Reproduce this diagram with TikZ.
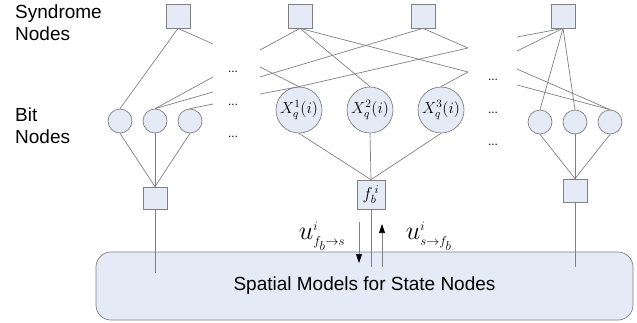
\documentclass[tikz,border=0pt]{standalone}
\usepackage{fix-cm}
\usepackage{fontspec}
\setmainfont{Liberation Sans}
\usetikzlibrary{arrows.meta}
\definecolor{nodefill}{RGB}{228,234,246}
\definecolor{linegray}{RGB}{128,128,128}

\begin{document}
\begin{tikzpicture}[
    x=1pt, y=-1pt,
    synbox/.style={draw=linegray, fill=nodefill, line width=0.7pt, minimum size=24pt, inner sep=0pt},
    bitnode/.style={circle, draw=linegray, fill=nodefill, line width=0.7pt, minimum size=24pt, inner sep=0pt},
    varnode/.style={circle, draw=linegray, fill=nodefill, line width=0.7pt, minimum size=46pt, inner sep=0pt, font=\fontsize{16}{18}\selectfont},
    statebox/.style={draw=linegray, fill=nodefill, line width=0.7pt, rounded corners=15pt, minimum width=537pt, minimum height=68pt, inner sep=0pt, font=\fontsize{19}{22}\selectfont},
    sidelabel/.style={anchor=north west, align=left, inner sep=0pt, font=\fontsize{19}{22}\selectfont},
    gapdots/.style={inner sep=0pt, font=\fontsize{12}{14}\selectfont},
    msglabel/.style={inner sep=0pt, font=\fontsize{26}{30}\selectfont},
    link/.style={draw=linegray, line width=0.7pt},
    msgarrow/.style={draw=linegray, line width=0.7pt, -{Triangle[length=9pt, width=6pt, color=black]}}
  ]
    \useasboundingbox (0,0) rectangle (637,322);

    \node[sidelabel] (synlabel) at (15,5) {Syndrome\\Nodes};
    \node[sidelabel] (bitlabel) at (15,108) {Bit\\Nodes};

    \node[synbox] (syn1) at (178,16) {};
    \node[synbox] (syn2) at (300,16) {};
    \node[synbox] (syn3) at (423,16) {};
    \node[synbox] (syn4) at (563,16) {};

    \node[bitnode] (lb1) at (120,121) {};
    \node[bitnode] (lb2) at (155,121) {};
    \node[bitnode] (lb3) at (190,121) {};
    \node[varnode] (x1) at (299,110) {$X_q^1(i)$};
    \node[varnode] (x2) at (370,110) {$X_q^2(i)$};
    \node[varnode] (x3) at (441,110) {$X_q^3(i)$};
    \node[bitnode] (rb1) at (540,122) {};
    \node[bitnode] (rb2) at (575,122) {};
    \node[bitnode] (rb3) at (610,122) {};

    \node[synbox, minimum height=22pt] (fleft) at (155,198) {};
    \node[synbox, minimum width=28pt, minimum height=29pt, font=\fontsize{17}{19}\selectfont] (fmid) at (371,194.5) {$f_b^{\,i}$};
    \node[synbox, minimum height=23pt] (fright) at (575,190.5) {};

    \node[statebox] (state) at (364.5,286) {Spatial Models for State Nodes};

    \node[gapdots] (dotsl1) at (233,72) {...};
    \node[gapdots] (dotsl2) at (233,105) {...};
    \node[gapdots] (dotsl3) at (233,137) {...};
    \node[gapdots] (dotsr1) at (493,80) {...};
    \node[gapdots] (dotsr2) at (493,113) {...};
    \node[gapdots] (dotsr3) at (493,145) {...};

    \coordinate (lstubA) at (213,44);
    \coordinate (lstubB) at (213,77);
    \coordinate (lstubC) at (213,92);
    \coordinate (lstubD) at (213,104);
    \coordinate (mstubA) at (260,50);
    \coordinate (mstubB) at (260,67);
    \coordinate (mstubC) at (260,77);
    \coordinate (mstubD) at (260,94);
    \coordinate (mstubE) at (468,48);
    \coordinate (mstubF) at (468,72);
    \coordinate (rstubA) at (517,37);
    \coordinate (rstubB) at (517,51);
    \coordinate (rstubC) at (517,69);
    \coordinate (rstubD) at (517,85);
    \coordinate (fleftend) at (155,273);
    \coordinate (fmidend) at (371,267);
    \coordinate (frightend) at (575,267);
    \coordinate (downstart) at (359,222);
    \coordinate (downend) at (359,263);
    \coordinate (upstart) at (382,267);
    \coordinate (upend) at (382,224);

    \draw[link] (syn1.south) -- (lb1.north);
    \draw[link] (syn1.south) -- (lstubA);
    \draw[link] (lb2.north) -- (lstubB);
    \draw[link] (lb2.north) -- (lstubC);
    \draw[link] (lb3.north) -- (lstubD);
    \draw[link] (syn2.south) -- (mstubA);
    \draw[link] (syn2.south) -- (x2.north);
    \draw[link] (syn2.south) -- (mstubF);
    \draw[link] (syn3.south) -- (mstubC);
    \draw[link] (syn3.south) -- (mstubE);
    \draw[link] (x1.north) -- (mstubB);
    \draw[link] (x1.north) -- (mstubD);
    \draw[link] (x1.north) -- (mstubE);
    \draw[link] (x3.north) -- (mstubF);
    \draw[link] (syn4.south) -- (rstubA);
    \draw[link] (syn4.south) -- (rstubB);
    \draw[link] (syn4.south) -- (rb1.north);
    \draw[link] (syn4.south) -- (rb2.north);
    \draw[link] (rb3.north) -- (rstubC);
    \draw[link] (rb3.north) -- (rstubD);

    \draw[link] (lb1.south) -- (fleft.north);
    \draw[link] (lb2.south) -- (fleft.north);
    \draw[link] (lb3.south) -- (fleft.north);
    \draw[link] (x1.south) -- (fmid.north);
    \draw[link] (x2.south) -- (fmid.north);
    \draw[link] (x3.south) -- (fmid.north);
    \draw[link] (rb1.south) -- (fright.north);
    \draw[link] (rb2.south) -- (fright.north);
    \draw[link] (rb3.south) -- (fright.north);

    \draw[link] (fleft.south) -- (fleftend);
    \draw[link] (fmid.south) -- (fmidend);
    \draw[link] (fright.south) -- (frightend);

    \draw[msgarrow] (downstart) -- (downend);
    \draw[msgarrow] (upstart) -- (upend);
    \node[msglabel] (msgdown) at (322,236) {$u^{\scriptscriptstyle i}_{\scriptscriptstyle f_b\to s}$};
    \node[msglabel] (msgup) at (429,236) {$u^{\scriptscriptstyle i}_{\scriptscriptstyle s\to f_b}$};
  \end{tikzpicture}
\end{document}
